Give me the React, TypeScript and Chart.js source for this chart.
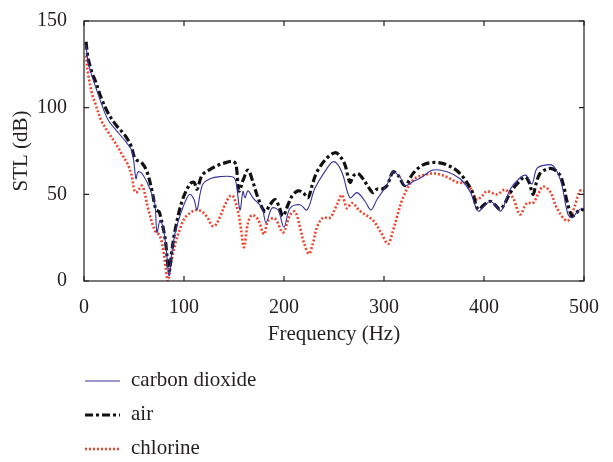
import React, { useEffect, useRef } from "react";
import { Chart, registerables } from "chart.js";

Chart.register(...registerables);

const xTicks = [0, 100, 200, 300, 400, 500];
const yTicks = [0, 50, 100, 150];

const co2Freq = [2,4,8,11,17,24,32,41,46,48,50,52,54,58,63,68,71,73,76,79,82,85,88,92,98,103,106,110,113,116,119,126,136,149,152,156,159,161,164,169,178,182,188,194,200,206,216,223,231,243,249,254,259,266,273,281,287,293,303,309,316,321,328,338,349,363,376,386,394,400,406,411,417,426,435,442,448,453,463,469,474,478,484,488,492,496,500];
const co2Val = [136,127,118,113,103,93,87,81,77,75,68,59,63,62,57,50,44,28,35,31,20,3,17,30,41,48,50,47,41,50,56,59,60.2,60,57,41,51.7,48,52,48,42,33.7,42,41,31,42,44,41,53.6,65,68.8,67,61,48,51,46,41,47,55.5,63,60,55,57,60,64,63,59,51.7,40.4,43,46,44,40.4,52.6,59,61,56,65,67,66.5,62,55,38.4,36.5,39,41.3,42];

const airFreq = [2,4,8,11,17,24,32,41,47,50,52,58,63,68,72,75,77,81,85,88,91,98,106,110,113,118,125,131,140,149,152,155,159,164,169,174,181,186,191,195,199,204,208,214,219,224,228,233,243,251,256,261,266,270,274,279,283,289,293,298,303,309,314,321,329,339,351,363,376,388,394,400,406,411,416,421,426,433,441,445,449,452,456,463,469,476,480,483,488,492,496,500];
const airVal = [138,129,120,116,106,97,90,84,78,72,70,68,63,52,41,40,36,25,6,18,29,46,56,57,53,61,64,66,68,69,67,52,58,64,57,48,40,44,47,43,37.5,44,49,52,51,48,55,63,71,74,72,67,57,61,62,59,55.5,51,53,53,55,63,61,55,62,67,68.4,67,62,51.7,41.3,44,46,44,41.3,45,50.7,56,60,57,50,56,62,64.6,64.6,61,54,46,37.5,39,41.3,41];

const clFreq = [2,4,8,11,17,24,32,38,44,48,50,52,55,58,61,64,71,76,80,84,87,91,96,101,108,113,118,123,128,131,136,141,146,149,154,157,160,164,168,174,180,184,191,199,206,211,216,220,225,229,233,239,246,253,258,263,268,276,289,297,304,309,313,319,329,339,351,363,373,383,388,393,398,403,413,421,429,436,443,449,454,459,466,473,483,489,496,500];
const clVal = [130,120,108,103,93,86,79,73,67,60,53,51,53,55,50,42,29,26,15,0,10,21,30,36.5,40,41,40,37,32,31.8,37,44,49,49,40.4,30,19.5,33.6,38,35.5,27,34.6,36,28,38,40,31,22,15.7,22,31,36.5,36.5,44,49.6,42,45,40.4,35,28,21.4,29,37,48,58.3,61,62,60,57,56,52,47,49,51.7,50,52.6,48,38.4,45,45,50,54.5,51.7,42,34.7,40.4,52,52];

const seriesNames = ["carbon dioxide", "air", "chlorine"];

const FONT = "'Liberation Serif', 'DejaVu Serif', serif";
const TEXT = "#231f20";

const pts = (f: number[], v: number[]) => f.map((x, i) => ({ x, y: v[i] }));

const framePlugin = {
  id: "frame",
  afterDatasetsDraw(chart: any) {
    const { ctx, chartArea: a, scales } = chart;
    ctx.save();
    ctx.strokeStyle = "#231f20";
    ctx.lineWidth = 1.2;
    ctx.strokeRect(a.left, a.top, a.right - a.left, a.bottom - a.top);
    const tl = 5;
    ctx.beginPath();
    xTicks.forEach((t) => {
      const x = scales.x.getPixelForValue(t);
      ctx.moveTo(x, a.bottom);
      ctx.lineTo(x, a.bottom - tl);
      ctx.moveTo(x, a.top);
      ctx.lineTo(x, a.top + tl);
    });
    yTicks.forEach((t) => {
      const y = scales.y.getPixelForValue(t);
      ctx.moveTo(a.left, y);
      ctx.lineTo(a.left + tl, y);
      ctx.moveTo(a.right, y);
      ctx.lineTo(a.right - tl, y);
    });
    ctx.stroke();
    ctx.restore();
  },
};

const legendPlugin = {
  id: "customLegend",
  afterDraw(chart: any) {
    const { ctx } = chart;
    const x0 = 85, x1 = 120, tx = 131;
    const ys = [381, 415, 449];
    ctx.save();
    chart.data.datasets.forEach((ds: any, i: number) => {
      const y = ys[i];
      ctx.beginPath();
      ctx.strokeStyle = ds.borderColor;
      ctx.lineWidth = ds.borderWidth;
      ctx.setLineDash(ds.borderDash || []);
      ctx.moveTo(x0, y);
      ctx.lineTo(x1, y);
      ctx.stroke();
      ctx.setLineDash([]);
      ctx.fillStyle = TEXT;
      ctx.font = `21px ${FONT}`;
      ctx.textBaseline = "middle";
      ctx.textAlign = "left";
      ctx.fillText(ds.label, tx, y - 1);
    });
    ctx.restore();
  },
};

export default function App() {
  const ref = useRef<HTMLCanvasElement>(null);
  useEffect(() => {
    if (!ref.current) return;
    const chart = new Chart(ref.current, {
      type: "line",
      data: {
        datasets: [
          {
            label: seriesNames[0],
            data: pts(co2Freq, co2Val),
            borderColor: "#35339a",
            borderWidth: 1.1,
            pointRadius: 0,
            tension: 0.35,
          },
          {
            label: seriesNames[1],
            data: pts(airFreq, airVal),
            borderColor: "#111111",
            borderWidth: 3.2,
            borderDash: [8, 3, 3, 3],
            pointRadius: 0,
            tension: 0.35,
          },
          {
            label: seriesNames[2],
            data: pts(clFreq, clVal),
            borderColor: "#f2432b",
            borderWidth: 2.6,
            borderDash: [2, 2],
            pointRadius: 0,
            tension: 0.35,
          },
        ],
      },
      options: {
        responsive: false,
        animation: false,
        layout: { padding: { left: 0, right: 29, top: 17, bottom: 111 } },
        plugins: { legend: { display: false }, tooltip: { enabled: false } },
        scales: {
          x: {
            type: "linear",
            min: 0,
            max: 500,
            afterFit: (s: any) => { s.height = 70; },
            afterBuildTicks: (s: any) => { s.ticks = xTicks.map((v) => ({ value: v })); },
            grid: { display: false },
            border: { display: false },
            ticks: { color: TEXT, font: { family: FONT, size: 20 }, padding: 7, maxRotation: 0 },
            title: { display: true, text: "Frequency (Hz)", color: TEXT, font: { family: FONT, size: 21 }, padding: { top: 4 } },
          },
          y: {
            min: 0,
            max: 150,
            afterFit: (s: any) => { s.width = 84; },
            afterBuildTicks: (s: any) => { s.ticks = yTicks.map((v) => ({ value: v })); },
            grid: { display: false },
            border: { display: false },
            ticks: { color: TEXT, font: { family: FONT, size: 20 }, padding: 9 },
            title: { display: true, text: "STL (dB)", color: TEXT, font: { family: FONT, size: 21 }, padding: { top: 9, bottom: 0 } },
          },
        },
      },
      plugins: [framePlugin, legendPlugin],
    });
    return () => chart.destroy();
  }, []);
  return (
    <div style={{ position: "absolute", left: 0, top: 0, width: 613, height: 462, background: "#fff" }}>
      <canvas ref={ref} width={613} height={462} />
    </div>
  );
}
